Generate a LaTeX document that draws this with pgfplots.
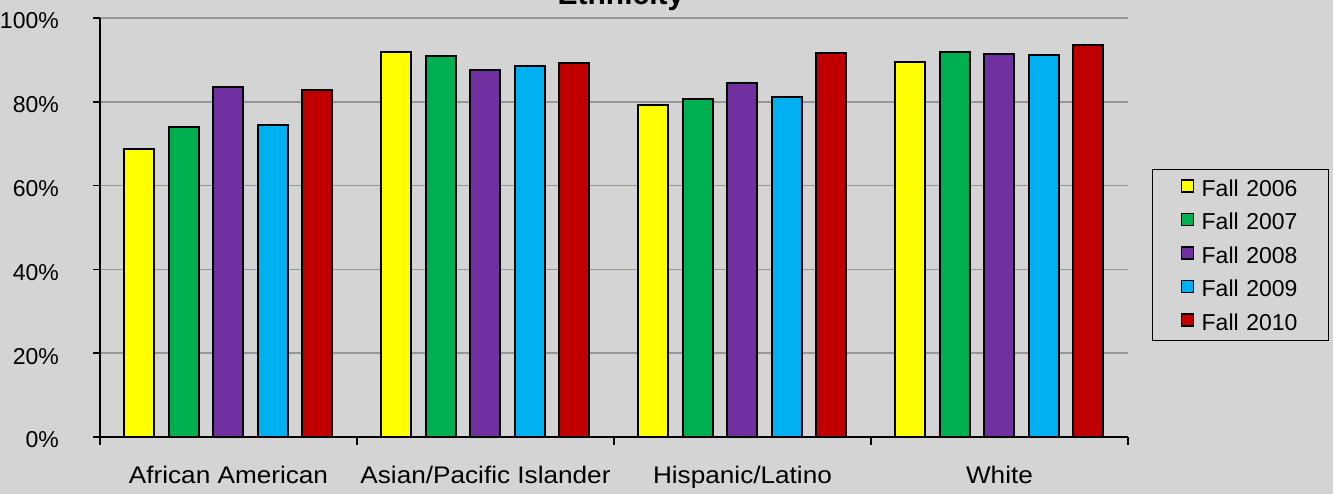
\documentclass[border=0pt]{standalone}
\usepackage{pgfplots}
\pgfplotsset{compat=1.18}
\usepackage{fontspec}
\setmainfont{Liberation Sans}
\newfontfamily\catfont{Liberation Sans}[FakeStretch=1.09]
\definecolor{bg}{RGB}{212,212,212}
\definecolor{c06}{RGB}{255,255,0}
\definecolor{c07}{RGB}{0,176,80}
\definecolor{c08}{RGB}{112,48,160}
\definecolor{c09}{RGB}{0,176,240}
\definecolor{c10}{RGB}{192,0,0}
\definecolor{gridc}{RGB}{150,150,150}
\begin{document}
\begin{tikzpicture}
\fill[bg] (0,0) rectangle (1333pt,494pt);
\useasboundingbox (0,0) rectangle (1333pt,494pt);
\begin{axis}[
  at={(100pt,57pt)}, anchor=south west,
  scale only axis, width=1028pt, height=419pt,
  xmin=-0.5, xmax=3.5, ymin=0, ymax=100,
  axis x line*=bottom, axis y line*=left,
  axis line style={line width=1.5pt, black, -},
  ybar=14.5pt, bar width=30pt,
  tick align=outside,
  xtick={0,1,2,3},
  xticklabels={African American, Asian/Pacific Islander, Hispanic/Latino, White},
  major x tick style={draw=none},
  minor xtick={-0.5,0.5,1.5,2.5,3.5},
  minor x tick style={line width=1.5pt, black},
  minor tick length=8pt,
  major tick length=7pt,
  ytick={0,20,...,100},
  y tick style={line width=1.5pt, black},
  /pgf/number format/assume math mode=true,
  yticklabel={\pgfmathprintnumber{\tick}\%},
  ymajorgrids,
  grid style={gridc, line width=1.5pt},
  xticklabel style={font=\catfont\fontsize{24}{24}\selectfont, anchor=base, yshift=-40pt},
  yticklabel style={font=\fontsize{23}{23}\selectfont, anchor=east, inner sep=0pt, xshift=-34pt, yshift=-3pt},
  title={Ethnicity},
  title style={at={(0.5068,1.0167)}, anchor=base, font=\fontsize{30}{30}\selectfont\bfseries, inner sep=0pt},
  legend style={at={(1.0233,0.6396)}, anchor=north west, draw=black, line width=1.5pt, fill=none,
    inner xsep=0pt, inner ysep=1.5pt, row sep=0pt, column sep=0pt,
    font=\fontsize{23}{23}\selectfont,
    nodes={inner xsep=0pt, inner ysep=0pt, text height=25pt, text depth=8.5pt, text width=127pt}},
  legend cell align=left,
  legend image code/.code={\path (-28pt,0pt) (19pt,0pt); \draw[#1, line width=1.5pt] (0pt,-4pt) rectangle (12pt,8pt);},
]
\addplot[fill=c06, draw=black, line width=2pt] coordinates {(0,68.7) (1,92.0) (2,79.2) (3,89.6)};
\addplot[fill=c07, draw=black, line width=2pt] coordinates {(0,74.0) (1,91.0) (2,80.6) (3,92.0)};
\addplot[fill=c08, draw=black, line width=2pt] coordinates {(0,83.5) (1,87.7) (2,84.4) (3,91.5)};
\addplot[fill=c09, draw=black, line width=2pt] coordinates {(0,74.4) (1,88.6) (2,81.1) (3,91.1)};
\addplot[fill=c10, draw=black, line width=2pt] coordinates {(0,82.9) (1,89.2) (2,91.6) (3,93.5)};
\legend{Fall 2006, Fall 2007, Fall 2008, Fall 2009, Fall 2010}
\end{axis}
\end{tikzpicture}
\end{document}
